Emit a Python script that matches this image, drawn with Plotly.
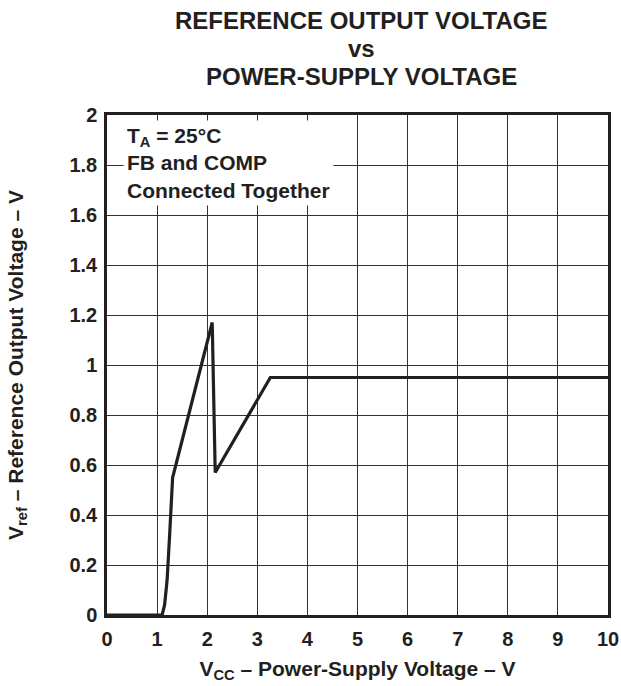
import plotly.graph_objects as go

# Reference output voltage vs supply voltage
vcc = [0, 1.1, 1.15, 1.2, 1.25, 1.31, 2.1, 2.16, 3.26, 10]
vref = [0, 0, 0.04, 0.14, 0.32, 0.55, 1.17, 0.57, 0.95, 0.95]

x_ticks = list(range(0, 11))
y_ticks = [0, 0.2, 0.4, 0.6, 0.8, 1, 1.2, 1.4, 1.6, 1.8, 2]
y_tick_text = ["0", "0.2", "0.4", "0.6", "0.8", "1", "1.2", "1.4", "1.6", "1.8", "2"]

title_lines = ["REFERENCE OUTPUT VOLTAGE", "vs", "POWER-SUPPLY VOLTAGE"]

FONT = "Liberation Sans, Arial, sans-serif"
INK = "#231f20"

fig = go.Figure()

fig.add_trace(go.Scatter(
    x=vcc,
    y=vref,
    mode="lines",
    line=dict(color=INK, width=3.2),
    showlegend=False,
))

# title, three centred lines above the plot
for text, ypos in zip(title_lines, [1.19, 1.134, 1.076]):
    fig.add_annotation(
        text=text, xref="paper", yref="paper", x=0.507, y=ypos,
        xanchor="center", yanchor="middle", showarrow=False,
        font=dict(family=FONT, size=24, color=INK, weight="bold"),
    )

# conditions box in upper left, white backing hides the grid
fig.add_annotation(
    text="T<sub>A</sub> = 25°C<br>FB and COMP<br>Connected Together",
    xref="paper", yref="paper", x=0.032, y=0.991,
    xanchor="left", yanchor="top", align="left", showarrow=False,
    bgcolor="white", borderpad=3,
    font=dict(family=FONT, size=21, color=INK, weight="bold"),
)

axis_common = dict(
    showgrid=True,
    gridcolor="#333333",
    gridwidth=1,
    showline=True,
    linecolor=INK,
    linewidth=2.5,
    mirror=True,
    ticks="",
    zeroline=False,
    automargin=False,
    tickfont=dict(family=FONT, size=20, color=INK, weight="bold"),
)

fig.update_layout(
    width=621,
    height=686,
    margin=dict(l=107, r=13, t=115, b=71),
    paper_bgcolor="white",
    plot_bgcolor="white",
    font=dict(family=FONT, color=INK),
    xaxis=dict(
        axis_common,
        range=[0, 10],
        tickmode="array",
        tickvals=x_ticks,
        ticklabelstandoff=4,
        ticklabeloverflow="allow",
        title=dict(
            text="V<sub>CC</sub> – Power-Supply Voltage – V",
            font=dict(family=FONT, size=21, color=INK, weight="bold"),
            standoff=13,
        ),
    ),
    yaxis=dict(
        axis_common,
        range=[0, 2],
        tickmode="array",
        tickvals=y_ticks,
        ticktext=y_tick_text,
        ticklabelstandoff=3,
        title=dict(
            text="V<sub>ref</sub> – Reference Output Voltage – V",
            font=dict(family=FONT, size=21, color=INK, weight="bold"),
            standoff=41,
        ),
    ),
)

# drop the default page margin so the figure fills the window exactly
fig.write_html(
    "out.html",
    config={"displayModeBar": False},
    post_script="document.body.style.margin='0';document.body.style.overflow='hidden';",
)
